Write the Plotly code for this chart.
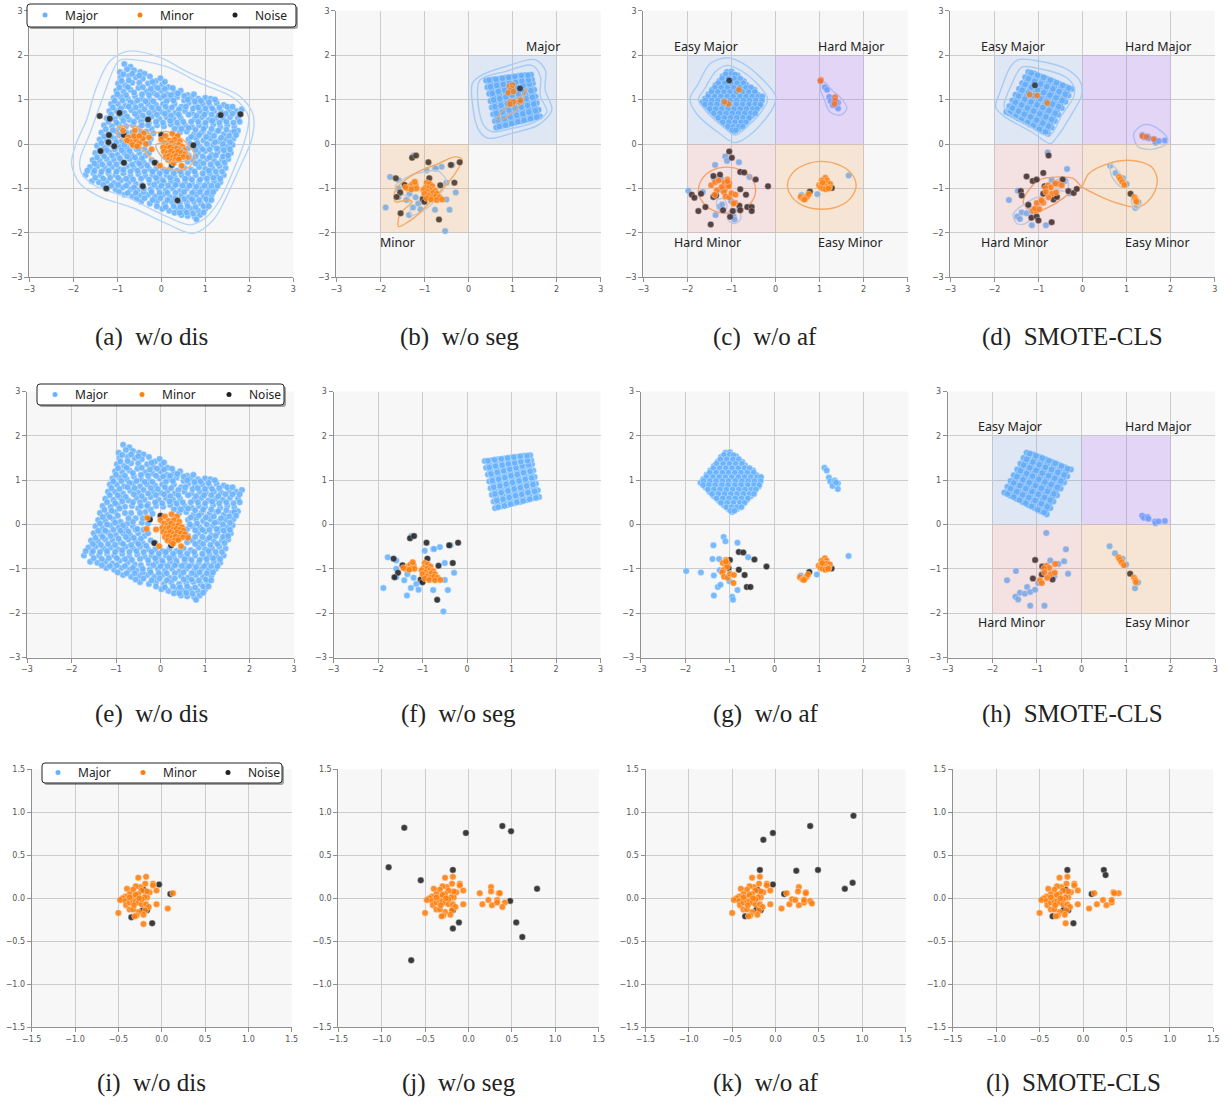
import plotly.graph_objects as go

W, H = 1225, 1101

BLUE = "#66b2ff"
ORANGE = "#ff7f0e"
BLACK = "#222222"
LINE_BLUE = "#b5d6f8"
LINE_ORANGE = "#f5ad6b"

TICKS_WIDE = [-3, -2, -1, 0, 1, 2, 3]
TICKS_NARROW = [-1.5, -1.0, -0.5, 0.0, 0.5, 1.0, 1.5]

# ----- Major clouds ----- #
MAJOR_LARGE = [
    (-.84,1.8),(-.7,1.74),(-.94,1.62),(-.78,1.68),(-.62,1.66),(-.48,1.62),(-.38,1.58),
    (-.92,1.5),(-.74,1.53),(-.58,1.5),(-.42,1.47),(-.26,1.52),(-.12,1.42),(-.02,1.48),
    (-.98,1.36),(-.82,1.32),(-.66,1.38),(-.3,1.36),(-.16,1.3),(.02,1.34),(.16,1.28),
    (-1.02,1.2),(-.86,1.18),(-.7,1.22),(-.52,1.26),(-.34,1.18),(-.18,1.15),(0,1.2),(.14,1.12),(.3,1.16),(.44,1.2),(.6,1.1),
    (-1.08,1.04),(-.92,1.06),(-.76,1.02),(-.6,1.08),(-.44,1.02),(-.26,1),(-.02,1.04),(.2,1.02),(.36,1.06),(.52,.98),(.68,1.04),(.84,1.02),(1,1.04),(1.12,1.02),
    (-1.14,.9),(-.98,.9),(-.82,.86),(-.62,.92),(-.46,.86),(-.3,.9),(-.12,.88),(.04,.9),(.3,.9),(.46,.84),(.62,.92),(.78,.88),(.94,.9),(1.1,.86),(1.26,.92),(1.42,.88),
    (-1.18,.74),(-1.02,.74),(-.84,.7),(-.68,.76),(-.5,.72),(-.16,.74),(0,.72),(.16,.76),(.32,.7),(.54,.74),(.7,.7),(.88,.74),(1.02,.72),(1.2,.74),(1.36,.72),(1.54,.76),(1.7,.74),(1.83,.78),
    (-1.24,.58),(-1.06,.56),(-.9,.6),(-.72,.54),(-.54,.6),(-.36,.56),(-.22,.62),(-.04,.56),(.12,.6),(.28,.56),(.44,.58),(.76,.56),(.92,.6),(1.08,.54),(1.24,.58),(1.4,.56),(1.56,.6),(1.74,.58),
    (-1.3,.42),(-1.12,.4),(-.96,.44),(-.8,.4),(-.64,.42),(-.5,.36),(-.1,.42),(.06,.4),(.22,.44),(.38,.4),(.54,.42),(.7,.38),(.86,.42),(1,.4),(1.18,.44),(1.34,.38),(1.5,.42),(1.66,.38),(1.78,.5),
    (-1.36,.26),(-1.2,.22),(-1.02,.28),(-.66,.26),(-.34,.28),(.42,.26),(.58,.28),(.74,.22),(.92,.26),(1.1,.24),(1.26,.28),(1.42,.22),(1.6,.26),(1.74,.3),
    (-1.4,.1),(-1.24,.08),(-1.06,.12),(-.9,.06),(-.74,.02),(-.56,.14),(-.42,.04),(-.24,.12),(.62,.1),(.8,.12),(.96,.08),(1.12,.12),(1.3,.06),(1.46,.1),(1.64,.12),
    (-1.46,-.04),(-1.3,-.08),(-1.12,-.02),(-.94,-.06),(-.78,-.1),(-.62,-.04),(.6,-.1),(.72,-.04),(.88,-.06),(1.18,-.02),(1.34,-.1),(1.5,-.06),(1.62,-.02),
    (-1.5,-.2),(-1.34,-.22),(-1.18,-.18),(-1,-.24),(-.84,-.2),(-.68,-.24),(-.5,-.2),(-.36,-.26),(.62,-.26),(.84,-.2),(1,-.16),(1.14,-.24),(1.28,-.18),(1.46,-.22),(1.58,-.2),
    (-1.56,-.36),(-1.4,-.38),(-1.24,-.34),(-1.08,-.36),(-.9,-.4),(-.72,-.34),(-.56,-.38),(-.4,-.42),(-.22,-.36),(.6,-.4),(.72,-.36),(.88,-.4),(1.04,-.34),(1.2,-.38),(1.38,-.36),(1.52,-.34),
    (-1.62,-.52),(-1.46,-.5),(-1.28,-.54),(-1.12,-.52),(-.96,-.56),(-.78,-.5),(-.62,-.54),(-.46,-.5),(-.28,-.56),(-.12,-.56),(.04,-.6),(.2,-.56),(.36,-.6),(.52,-.54),(.68,-.58),(.86,-.52),(1,-.56),(1.16,-.54),(1.32,-.5),(1.46,-.54),
    (-1.72,-.7),(-1.54,-.66),(-1.38,-.7),(-1.2,-.66),(-1.04,-.7),(-.86,-.66),(-.7,-.72),(-.52,-.68),(-.36,-.72),(-.2,-.7),(-.04,-.74),(.12,-.7),(.3,-.74),(.46,-.7),(.62,-.76),(.78,-.7),(.96,-.74),(1.1,-.68),(1.26,-.72),(1.42,-.7),
    (-1.58,-.84),(-1.42,-.86),(-1.24,-.84),(-1.08,-.88),(-.92,-.82),(-.74,-.86),(-.58,-.9),(-.26,-.88),(-.1,-.84),(.06,-.88),(.22,-.84),(.38,-.9),(.54,-.86),(.7,-.9),(.86,-.86),(1.04,-.88),(1.2,-.84),(1.34,-.86),
    (-1.22,-.98),(-1.04,-1.02),(-.88,-.98),(-.7,-1.02),(-.54,-1.04),(-.24,-1.02),(-.06,-1),(.1,-1.04),(.26,-1),(.42,-1.06),(.58,-1),(.76,-1.04),(.92,-1),(1.08,-1.02),(1.24,-1),
    (-.84,-1.14),(-.66,-1.18),(-.48,-1.16),(-.3,-1.14),(-.14,-1.18),(.04,-1.14),(.2,-1.2),(.46,-1.16),(.62,-1.2),(.8,-1.14),(.96,-1.18),(1.14,-1.16),
    (-.46,-1.3),(-.26,-1.34),(-.1,-1.3),(.08,-1.34),(.24,-1.3),(.42,-1.34),(.58,-1.32),(.74,-1.3),(.9,-1.34),(1.06,-1.3),
    (.02,-1.46),(.18,-1.5),(.36,-1.46),(.52,-1.5),(.68,-1.46),(.84,-1.5),(1,-1.46),
    (.46,-1.6),(.6,-1.62),(.76,-1.64),(.88,-1.6),(.8,-1.7),
]
MAJOR_LARGE_FILL = [
    (-.86,1.57),(-.66,1.58),(-.5,1.54),(-.9,1.42),(-.74,1.43),(-.5,1.38),(-.2,1.4),(.08,1.4),
    (-.95,1.27),(-.76,1.28),(-.42,1.28),(-.24,1.24),(-.08,1.26),(.08,1.24),(.26,1.26),
    (-1,1.12),(-.8,1.1),(-.62,1.16),(-.44,1.12),(-.28,1.1),(-.1,1.1),(.06,1.08),(.22,1.1),(.38,1.14),(.52,1.08),(.74,1.12),
    (-1.06,.97),(-.88,.98),(-.7,.94),(-.54,.98),(-.36,.96),(-.18,.96),(.12,.96),(.28,.98),(.6,1),(.76,.96),(.9,.97),(1.08,.94),(1.22,1),
    (-1.1,.82),(-.92,.8),(-.74,.84),(-.58,.82),(-.38,.78),(-.22,.82),(-.06,.8),(.1,.84),(.24,.82),(.4,.78),(.56,.84),(.72,.8),(.84,.82),(1,.8),(1.16,.8),(1.32,.82),(1.5,.84),(1.62,.84),
    (-1.14,.66),(-.96,.66),(-.78,.62),(-.6,.68),(-.42,.64),(-.28,.7),(-.1,.66),(.08,.68),(.22,.64),(.4,.66),(.62,.66),(.8,.64),(.98,.66),(1.14,.66),(1.3,.64),(1.46,.68),(1.62,.68),(1.78,.68),
    (-1.2,.5),(-1.02,.48),(-.86,.52),(-.62,.5),(-.46,.5),(-.28,.46),(-.12,.5),(.04,.48),(.2,.52),(.36,.48),(.5,.5),(.68,.5),(.84,.5),(1,.48),(1.16,.52),(1.32,.48),(1.48,.5),(1.64,.48),
    (-1.26,.33),(-1.1,.31),(-.92,.36),(-.22,.34),(.3,.34),(.46,.34),(.62,.36),(.78,.32),(.96,.34),(1.14,.34),(1.3,.3),(1.48,.32),(1.66,.28),
    (-1.3,.17),(-1.14,.17),(-.96,.2),(.68,.16),(.86,.2),(1.02,.16),(1.2,.18),(1.36,.14),(1.54,.18),(1.7,.2),
    (-1.36,.02),(-1.2,0),(-1.02,.04),(-.84,-.02),(.66,0),(.82,.02),(1.04,0),(1.22,.04),(1.4,0),(1.56,.04),
    (-1.4,-.14),(-1.24,-.14),(-1.06,-.12),(-.9,-.14),(-.72,-.16),(-.56,-.12),(.78,-.13),(.94,-.12),(1.1,-.12),(1.26,-.1),(1.42,-.14),(1.56,-.12),
    (-1.46,-.3),(-1.3,-.28),(-1.12,-.26),(-.94,-.32),(-.78,-.28),(-.6,-.3),(-.44,-.32),(.78,-.28),(.94,-.28),(1.1,-.3),(1.24,-.26),(1.4,-.28),(1.52,-.26),
    (-1.52,-.44),(-1.34,-.46),(-1.18,-.44),(-1.02,-.46),(-.84,-.44),(-.66,-.46),(-.5,-.44),(-.32,-.48),(.78,-.44),(.96,-.44),(1.12,-.46),(1.28,-.44),(1.44,-.42),
    (-1.68,-.6),(-1.52,-.6),(-1.36,-.62),(-1.2,-.6),(-1.02,-.62),(-.86,-.58),(-.7,-.62),(-.54,-.6),(-.38,-.62),(-.2,-.62),(-.04,-.66),(.12,-.62),(.28,-.66),(.44,-.62),(.6,-.66),(.76,-.62),(.94,-.66),(1.08,-.6),(1.24,-.62),(1.38,-.62),
    (-1.5,-.76),(-1.32,-.78),(-1.16,-.76),(-.98,-.76),(-.8,-.78),(-.64,-.8),(-.46,-.78),(-.28,-.8),(-.12,-.76),(.04,-.82),(.2,-.76),(.36,-.82),(.54,-.78),(.7,-.8),(.88,-.8),(1.04,-.78),(1.18,-.76),(1.34,-.78),
    (-1.32,-.92),(-1.14,-.94),(-.98,-.92),(-.8,-.94),(-.62,-.98),(-.16,-.92),(0,-.94),(.16,-.94),(.32,-.92),(.48,-.94),(.64,-.94),(.8,-.96),(.98,-.94),(1.14,-.94),(1.28,-.94),
    (-.96,-1.08),(-.76,-1.1),(-.58,-1.1),(-.4,-1.08),(-.22,-1.08),(-.04,-1.1),(.14,-1.1),(.32,-1.1),(.52,-1.08),(.7,-1.1),(.88,-1.08),(1.04,-1.1),(1.18,-1.08),
    (-.56,-1.24),(-.38,-1.22),(-.2,-1.26),(-.02,-1.22),(.14,-1.26),(.32,-1.22),(.52,-1.24),(.7,-1.24),(.86,-1.26),(1.02,-1.24),(1.14,-1.26),
    (-.1,-1.4),(.1,-1.42),(.28,-1.4),(.44,-1.42),(.6,-1.4),(.78,-1.42),(.96,-1.4),(1.08,-1.4),
    (.3,-1.55),(.42,-1.55),(.58,-1.54),(.72,-1.56),(.96,-1.54),
    (-.8,.26),(-.62,.06),(-.46,.26),(-.72,.14),(-.44,.42),(-.3,.42),(-.18,.24),(-.52,-.1),(-.38,-.12),(-.28,.02),(-.4,.14),(-.28,-.2),(-.44,-.92),(-.4,-1),(-.12,-.42),
]

MAJOR_SQUARE_B = [
    (.63,.37),(.77,.41),(.91,.44),(1.05,.48),(1.19,.51),(1.34,.55),(1.48,.59),(1.62,.62),
    (.6,.52),(.74,.56),(.88,.59),(1.02,.63),(1.16,.66),(1.3,.7),(1.45,.74),(1.59,.77),
    (.56,.67),(.7,.71),(.85,.74),(.99,.78),(1.13,.82),(1.27,.85),(1.41,.89),(1.55,.92),
    (.53,.82),(.67,.86),(.81,.89),(.95,.93),(1.1,.97),(1.24,1),(1.38,1.04),(1.52,1.07),
    (.5,.97),(.64,1.01),(.78,1.04),(.92,1.08),(1.06,1.12),(1.2,1.15),(1.35,1.19),(1.49,1.22),
    (.47,1.13),(.61,1.16),(.75,1.2),(.89,1.23),(1.03,1.27),(1.17,1.3),(1.31,1.34),(1.46,1.36),
    (.43,1.28),(.57,1.31),(.72,1.33),(.86,1.36),(1,1.38),(1.14,1.41),(1.28,1.44),(1.44,1.45),
    (.4,1.43),(.55,1.45),(.7,1.47),(.84,1.49),(.98,1.51),(1.13,1.53),(1.28,1.55),(1.42,1.56),
    (.69,.47),(.83,.5),(.97,.54),(1.11,.57),(1.25,.61),(1.4,.65),(1.54,.68),
    (.65,.62),(.8,.65),(.94,.69),(1.08,.73),(1.22,.76),(1.36,.8),(1.5,.83),
    (.62,.77),(.76,.8),(.9,.84),(1.04,.88),(1.19,.91),(1.33,.95),(1.47,.98),
    (.59,.92),(.73,.95),(.87,.99),(1.01,1.03),(1.15,1.06),(1.3,1.1),(1.44,1.13),
    (.56,1.07),(.7,1.1),(.84,1.14),(.98,1.18),(1.12,1.21),(1.26,1.25),(1.4,1.29),
    (.52,1.22),(.67,1.25),(.81,1.28),(.95,1.31),(1.09,1.35),(1.23,1.37),(1.38,1.42),
    (.49,1.37),(.64,1.39),(.78,1.41),(.92,1.44),(1.06,1.46),(1.21,1.49),(1.35,1.5),
    (.7,.39),(.84,.42),(.98,.46),(1.12,.5),(1.26,.53),(1.41,.57),(1.55,.6),
    (.67,.54),(.81,.57),(.95,.61),(1.09,.65),(1.23,.68),(1.37,.72),(1.52,.75),
    (.63,.69),(.77,.72),(.92,.76),(1.06,.8),(1.2,.83),(1.34,.87),(1.48,.9),
    (.6,.84),(.74,.87),(.88,.91),(1.02,.95),(1.17,.98),(1.31,1.02),(1.45,1.05),
    (.57,.99),(.71,1.02),(.85,1.06),(.99,1.1),(1.13,1.13),(1.27,1.17),(1.42,1.2),
    (.54,1.14),(.68,1.18),(.82,1.21),(.96,1.25),(1.1,1.28),(1.24,1.32),(1.38,1.35),
    (.5,1.29),(.64,1.32),(.79,1.34),(.93,1.37),(1.07,1.39),(1.21,1.42),(1.36,1.44),
    (.47,1.44),(.62,1.46),(.77,1.48),(.91,1.5),(1.05,1.52),(1.2,1.54),(1.35,1.55),
]

MAJOR_DIAMOND_C = [
    (-1.1,1.62),(-1,1.63),(-1.2,1.52),(-1.07,1.53),(-.94,1.51),(-.86,1.54),
    (-1.27,1.42),(-1.14,1.43),(-1,1.41),(-.86,1.43),(-.72,1.41),
    (-1.36,1.32),(-1.22,1.33),(-1.08,1.31),(-.94,1.33),(-.8,1.31),(-.66,1.33),
    (-1.44,1.22),(-1.3,1.23),(-1.16,1.21),(-1.02,1.23),(-.88,1.21),(-.74,1.23),(-.6,1.21),(-.48,1.22),
    (-1.52,1.12),(-1.38,1.13),(-1.24,1.11),(-1.1,1.13),(-.96,1.11),(-.82,1.13),(-.68,1.11),(-.54,1.13),(-.4,1.11),
    (-1.6,1.02),(-1.45,1.03),(-1.3,1.01),(-1.17,1.03),(-1.03,1.01),(-.88,1.03),(-.74,1.01),(-.6,1.03),(-.46,1.01),(-.32,1.03),
    (-1.66,.94),(-1.52,.93),(-1.38,.95),(-1.24,.93),(-1.1,.95),(-.95,.93),(-.8,.95),(-.66,.93),(-.52,.95),(-.38,.93),
    (-1.55,.84),(-1.42,.85),(-1.28,.83),(-1.12,.85),(-1,.83),(-.86,.85),(-.72,.83),(-.58,.85),(-.44,.83),(-.36,.85),
    (-1.46,.74),(-1.32,.75),(-1.18,.73),(-1.04,.75),(-.9,.73),(-.76,.75),(-.62,.73),(-.48,.75),
    (-1.36,.64),(-1.22,.65),(-1.08,.63),(-.94,.65),(-.8,.63),(-.66,.65),(-.54,.63),
    (-1.25,.54),(-1.12,.55),(-.98,.53),(-.84,.55),(-.7,.53),(-.62,.55),
    (-1.14,.44),(-1.02,.45),(-.9,.43),(-.76,.45),(-1.02,.34),(-.94,.33),(-.84,.35),(-.95,.28),
    (-1.13,1.57),(-1,1.58),(-.92,1.56),(-1.21,1.47),(-1.07,1.47),(-.93,1.47),(-.8,1.47),
    (-1.3,1.37),(-1.15,1.37),(-1.01,1.37),(-.87,1.37),(-.73,1.37),
    (-1.37,1.27),(-1.23,1.27),(-1.09,1.27),(-.95,1.27),(-.81,1.27),(-.67,1.27),(-.56,1.27),
    (-1.45,1.17),(-1.31,1.17),(-1.17,1.17),(-1.03,1.17),(-.89,1.17),(-.75,1.17),(-.61,1.17),(-.47,1.17),
    (-1.53,1.07),(-1.38,1.07),(-1.24,1.07),(-1.1,1.07),(-.96,1.07),(-.81,1.07),(-.67,1.07),(-.53,1.07),(-.39,1.07),(-.3,1.07),
    (-1.59,.98),(-1.45,.98),(-1.31,.98),(-1.17,.98),(-1.03,.98),(-.88,.98),(-.73,.98),(-.59,.98),(-.45,.98),(-.31,.98),
    (-1.6,.89),(-1.47,.89),(-1.33,.89),(-1.18,.89),(-1.04,.89),(-.89,.89),(-.75,.89),(-.6,.89),(-.46,.89),(-.34,.89),
    (-1.49,.79),(-1.36,.79),(-1.22,.79),(-1.08,.79),(-.94,.79),(-.8,.79),(-.66,.79),(-.52,.79),(-.42,.79),
    (-1.4,.69),(-1.26,.69),(-1.12,.69),(-.98,.69),(-.84,.69),(-.7,.69),(-.56,.69),(-.46,.69),
    (-1.3,.59),(-1.16,.59),(-1.02,.59),(-.88,.59),(-.74,.59),(-.6,.59),
    (-1.2,.49),(-1.06,.49),(-.92,.49),(-.78,.49),(-.67,.49),(-1.08,.39),(-.96,.39),(-.84,.39),(-.74,.39),(-.98,.31),(-.9,.31),
]

MAJOR_SQUARE_D = [
    (-1.73,.72),(-1.59,.65),(-1.46,.58),(-1.32,.51),(-1.19,.44),(-1.05,.37),(-.91,.3),(-.78,.23),
    (-1.66,.85),(-1.52,.78),(-1.39,.71),(-1.25,.64),(-1.11,.58),(-.97,.51),(-.84,.44),(-.7,.37),
    (-1.59,.98),(-1.45,.91),(-1.31,.85),(-1.18,.78),(-1.04,.71),(-.9,.65),(-.77,.58),(-.63,.52),
    (-1.52,1.11),(-1.38,1.05),(-1.24,.98),(-1.1,.92),(-.97,.85),(-.83,.79),(-.69,.72),(-.55,.66),
    (-1.44,1.24),(-1.3,1.18),(-1.17,1.12),(-1.03,1.06),(-.89,.99),(-.75,.93),(-.61,.87),(-.47,.81),
    (-1.37,1.37),(-1.23,1.31),(-1.09,1.25),(-.95,1.19),(-.81,1.13),(-.67,1.07),(-.53,1.01),(-.39,.95),
    (-1.3,1.5),(-1.16,1.44),(-1.02,1.38),(-.88,1.32),(-.74,1.27),(-.6,1.21),(-.46,1.15),(-.32,1.09),
    (-1.23,1.62),(-1.09,1.58),(-.95,1.52),(-.81,1.47),(-.66,1.41),(-.52,1.35),(-.38,1.29),(-.24,1.24),
    (-1.62,.75),(-1.49,.68),(-1.35,.61),(-1.22,.54),(-1.08,.48),(-.94,.41),(-.8,.33),
    (-1.55,.88),(-1.41,.81),(-1.28,.74),(-1.14,.68),(-1,.61),(-.87,.55),(-.73,.47),
    (-1.48,1.01),(-1.34,.95),(-1.2,.89),(-1.07,.82),(-.93,.75),(-.8,.69),(-.66,.62),
    (-1.41,1.14),(-1.27,1.08),(-1.13,1.02),(-1,.96),(-.86,.89),(-.72,.83),(-.58,.76),
    (-1.34,1.27),(-1.19,1.22),(-1.06,1.16),(-.92,1.09),(-.78,1.03),(-.64,.97),(-.5,.91),
    (-1.26,1.4),(-1.12,1.35),(-.98,1.28),(-.84,1.23),(-.7,1.17),(-.56,1.11),(-.42,1.05),
    (-1.19,1.54),(-1.05,1.48),(-.91,1.42),(-.77,1.37),(-.63,1.31),(-.49,1.25),(-.35,1.19),
    (-1.66,.69),(-1.52,.62),(-1.39,.55),(-1.25,.48),(-1.12,.41),(-.98,.33),(-.84,.27),
    (-1.59,.81),(-1.45,.74),(-1.32,.67),(-1.18,.61),(-1.04,.54),(-.9,.47),(-.77,.4),
    (-1.52,.94),(-1.38,.88),(-1.25,.81),(-1.11,.74),(-.97,.68),(-.83,.61),(-.7,.55),
    (-1.45,1.08),(-1.31,1.01),(-1.17,.95),(-1.03,.88),(-.9,.82),(-.76,.75),(-.62,.69),
    (-1.37,1.21),(-1.23,1.15),(-1.1,1.09),(-.96,1.02),(-.82,.96),(-.68,.9),(-.54,.84),
    (-1.3,1.34),(-1.16,1.28),(-1.02,1.22),(-.88,1.16),(-.74,1.1),(-.6,1.04),(-.46,.98),
    (-1.23,1.47),(-1.09,1.41),(-.95,1.35),(-.81,1.29),(-.67,1.24),(-.53,1.18),(-.39,1.12),
    (-1.16,1.6),(-1.02,1.55),(-.88,1.5),(-.73,1.44),(-.59,1.38),(-.45,1.32),(-.31,1.26),
]

# ----- Scattered major points ----- #
MAJOR_SCATTER_B = [
    (-1.88,-1.43),(-1.78,-.74),(-1.59,-.81),(-1.59,-1),(-1.34,-1.12),(-1.2,-1.2),(-1.14,-1.34),(-1.26,-1.43),(-1.35,-1.6),
    (-1.09,-1.47),(-.76,-1.48),(-.43,-1.48),(-.5,-1.25),(-.29,-1.09),(-.5,-.87),(-.76,-.55),(-.61,-.51),(-.95,-.59),
    (-.37,-.47),(-1.25,-.26),(-.74,-.55),(-.53,-1.96),(-1.41,-1.26),(-1.59,-1.19),(-1.01,-1.3),
]
MAJOR_SCATTER_C = [
    (-1.98,-1.05),(-1.65,-1.08),(-1.36,-1.15),(-1.39,-.78),(-1.24,-.78),(-1.37,-.47),(-1.14,-.28),(-1.1,-.38),(-.83,-.41),
    (-.59,-.74),(-1.23,-1.03),(-1.27,-1.41),(-1.21,-1.36),(-1.36,-1.6),(-.95,-1.63),(-.93,-1.7),(-.83,-1.48),(-1.01,-1.28),
    (1.66,-.71),(.95,-1.13),(.59,-1.15),
    (1.12,1.28),(1.17,1.22),(1.22,1.06),(1.25,.97),(1.35,.99),(1.42,.93),(1.3,.87),(1.42,.8),(1.38,.95),
]
MAJOR_SCATTER_D = [
    (-1.67,-1.26),(-1.47,-1.05),(-1.22,-1.41),(-1.38,-1.54),(-1.27,-1.56),(-1.15,-1.52),(-1.04,-1.47),(-1.48,-1.63),(-1.42,-1.69),
    (-1.15,-1.83),(-.83,-1.83),(-.79,-.19),(-.7,-.81),(-.52,-.89),(-.39,-.83),(-.35,-.56),(-.3,-1.11),(-.97,-1.32),(-.61,-1.17),
    (.63,-.49),(.75,-.65),(.92,-.77),(.98,-.92),(1,-.9),(1.27,-1.31),(1.2,-1.44),
    (1.36,.2),(1.4,.15),(1.48,.17),(1.5,.13),(1.65,.07),(1.66,.03),(1.73,.07),(1.87,.08),
]

# ----- Minor points ----- #
MINOR_CENTER = [
    (.1,.18),(.25,.23),(.37,.18),(.18,.08),(.3,.1),(.42,.06),(0,.1),(.08,.02),(.16,-.02),(.24,.02),(.32,-.03),(.4,-.02),(.48,-.06),
    (.04,-.08),(.12,-.1),(.2,-.08),(.28,-.12),(.36,-.1),(.44,-.12),(.52,-.14),(.06,-.17),(.14,-.2),(.22,-.17),(.3,-.21),(.38,-.18),(.46,-.2),(.55,-.22),
    (.1,-.28),(.18,-.27),(.26,-.3),(.34,-.27),(.42,-.3),(.5,-.29),(.62,-.3),(.16,-.36),(.24,-.39),(.32,-.36),(.4,-.35),(.28,-.43),(.46,-.49),(-.03,-.49),
]
MINOR_A_EXTRA = [
    (-.87,.3),(-.6,.3),(-.4,.24),(-.75,.15),(-.7,.05),(-.58,.1),(-.5,.02),(-.42,.12),(-.65,-.02),(-.28,.15),(-.22,-.12),
    (-.78,.08),(-.62,.18),(-.5,.18),(-.55,-.05),(-.35,0),
]
MINOR_E_EXTRA = [(-.3,.15),(-.31,-.1),(-.1,-.11)]
MINOR_B_ZONE = [
    (-1.33,-.95),(-1.27,-.9),(-1.2,-.92),(-1.38,-1),(-1.25,-1),(-1.18,-1),(-1.3,-1.02),(-1.43,-.98),(-1.22,-.85),
    (-.95,-.87),(-.88,-.9),(-.82,-.95),(-.97,-.98),(-.9,-1),(-.83,-1.03),(-.76,-1.05),(-1.02,-1.03),(-.93,-1.08),(-.86,-1.12),
    (-.8,-1.1),(-.72,-1.12),(-1,-1.12),(-.9,-1.17),(-.82,-1.2),(-.74,-1.18),(-.66,-1.2),(-.95,-1.22),(-.85,-1.25),(-.72,-1.26),(-.6,-1.25),
]
MINOR_B_EXTRA = [
    (.95,.95),(1,.9),(1.02,.95),(.93,1.3),(1,1.33),(.98,1.25),(.95,1.2),(.9,1.15),(1.02,1.18),(1.15,.95),(1.18,.98),(.94,.9),
]
MINOR_EASY_C = [
    (1.13,-.76),(1.05,-.82),(1.17,-.82),(.99,-.93),(1.05,-.9),(1.12,-.88),(1.18,-.88),(1.24,-.9),(1.03,-.98),(1.1,-.95),(1.16,-.96),
    (1.22,-.98),(1.08,-1),(1.14,-1.02),(1.2,-1),(1.07,-.87),(.57,-1.19),(.63,-1.24),(.68,-1.21),(.72,-1.18),(.75,-1.13),(.66,-1.25),
]
MINOR_G_HARD = [
    (-1.09,-.8),(-1.16,-.87),(-1.05,-.89),(-1.09,-.95),(-1.15,-1.03),(-1.06,-.95),(-1.17,-1.08),(-1.13,-1.18),(-1.05,-1.2),
    (-1,-1.11),(-.91,-1.14),(-.92,-1.32),(-1.09,-.84),
]
MINOR_C_EXTRA = [
    (-1.46,-.93),(-1.37,-.86),(-1.29,-.82),(-1.33,-1.04),(-1.38,-1.14),(-1.22,-.97),(-.95,-1.34),
    (-.83,1.22),(-1.07,.9),(-1.16,.95),(1.03,1.44),(1.02,1.42),(1.35,1.05),(1.35,.98),(1.34,.9),
]
MINOR_H = [
    (-.78,-.93),(-.72,-.98),(-.84,-.99),(-.83,-1.08),(-.69,-1.12),(-.6,-1.09),(-.77,-1.2),(-.93,-1.26),(-.89,-1.32),(-.59,-.89),
    (.83,-.74),(.86,-.79),(.9,-.85),(.95,-.92),(1.18,-1.2),(1.21,-1.26),(1.22,-1.3),
]
MINOR_D_EXTRA = [
    (-1.12,-1.5),(-1.05,-1.5),(-1.08,-1.45),(-.98,-1.47),(-1.04,-1.33),(-.93,-1.28),(-.55,-.9),(-.47,-.93),(-.62,-.89),
    (-1.2,1.11),(-1.03,1.09),(-.8,.92),(1.36,.18),(1.45,.16),(1.62,.11),
]

# Bottom row, cluster shared by all four panels
MINOR_SMALL = [
    (-.27,.24),(-.18,.25),(-.19,.17),(-.1,.17),(-.1,.15),(-.06,.09),(-.18,.05),(-.14,.07),(-.17,.08),(-.25,.13),(-.3,.14),(-.33,.1),
    (-.4,.11),(-.37,.05),(-.32,.01),(-.23,.09),(-.27,.05),(-.3,.04),(-.42,.02),(-.45,0),(-.48,-.02),(-.42,-.03),(-.41,-.08),(-.37,-.05),
    (-.33,-.03),(-.3,-.04),(-.27,-.05),(-.23,-.07),(-.18,-.07),(-.15,-.1),(-.19,-.14),(-.21,-.19),(-.27,-.16),(-.29,-.2),(-.31,-.21),
    (-.37,-.13),(-.33,-.13),(-.5,-.17),(-.06,-.07),(-.17,.01),(-.2,.01),(-.23,-.01),(-.26,0),(-.32,-.08),(-.37,.01),
]
MINOR_I_EXTRA = [(.13,.06),(.07,-.12),(-.21,-.3)]
MINOR_J_EXTRA = [(.13,.06),(.26,.13),(.26,.08),(.35,.06),(.36,.06),(.16,-.07),(.23,-.02),(.27,-.08),(.33,-.02),(.33,-.05),(.42,-.05),(.39,-.1)]
MINOR_K_EXTRA = [(.13,.06),(.27,.13),(.26,.08),(.35,.07),(.35,.06),(.07,-.12),(.16,-.07),(.19,-.01),(.23,-.02),(.27,-.08),(.33,-.05),(.33,-.02),(.4,-.03),(.42,-.06)]
MINOR_L_EXTRA = [(.13,.06),(.35,.07),(.41,.06),(.36,.06),(.07,-.12),(.16,-.07),(.23,-.02),(.27,-.08),(.33,-.05),(.33,-.02),(-.2,-.29)]

# ----- Noise points ----- #
NOISE_A = [
    (-1.4,.63),(-1.17,.57),(-.95,.7),(-.3,.55),(-1.19,.2),(-1.2,.04),(-1.38,-.16),(-1.07,-.05),(-.85,-.42),(-.42,-.95),(.73,-.03),
    (0,.2),(.24,-.47),(-.15,-.42),(1.35,.65),(1.8,.67),(.37,-1.27),(-1.25,-1),(-.85,.2),
]
NOISE_E = [(-.24,.11),(0,.2),(-.14,-.42),(.24,-.47)]
NOISE_B = [
    (-1.65,-.77),(-1.45,-.92),(-1.55,-1.09),(-1.63,-1.19),(-1.54,-1.56),(-1.28,-.31),(-1.19,-.26),(-.91,-.41),(-.4,-.47),(-.2,-.41),
    (-.32,-.87),(-.64,-.93),(-.89,-.77),(-1.04,-1.24),(-1,-1.3),(-.67,-1.7),(-.91,-.92),(1.17,1.25),
]
NOISE_F = [
    (-1.65,-.77),(-1.45,-.92),(-1.55,-1.09),(-1.63,-1.19),(-1.28,-.31),(-1.19,-.26),(-.91,-.41),(-.4,-.47),(-.2,-.41),(-.32,-.87),
    (-.64,-.93),(-.89,-.77),(-1.04,-1.24),(-1,-1.3),(-.67,-1.7),
]
NOISE_C = [
    (-1.9,-1.14),(-1.84,-1.21),(-1.75,-1.51),(-1.59,-1.42),(-1.47,-1.81),(-1.69,-1.12),(-1.41,-.72),(-1.26,-.69),(-1.05,-.17),(-.99,-.31),
    (-.8,-.63),(-.71,-.64),(-.45,-.8),(-.17,-.95),(-.8,-1.02),(-.67,-1.14),(-.64,-1.42),(-.54,-1.42),(-.54,-1.51),(-.82,-1.39),(-.97,-1.51),
    (-.8,-1.49),(-1.03,-1.64),(-1.19,-1.49),(-1.41,-1.19),(-1.35,-1.16),(.78,-1.07),(1.28,-.99),(-1.05,1.43),
]
NOISE_G = [
    (-1,-.8),(-.8,-.62),(-.7,-.63),(-.45,-.79),(-.18,-.95),(-.8,-1.02),(-.67,-1.14),(-.62,-1.41),(-.54,-1.41),(.78,-1.07),(1.28,-.99),(-1.03,-.98),
]
NOISE_D = [
    (-1.27,-.73),(-1.13,-.83),(-1.04,-.8),(-.89,-.65),(-1.4,-1.06),(-1.38,-1.16),(-1.23,-1.37),(-.45,-.8),(-.32,-1.06),(-.2,-1.1),(-.13,-1.01),
    (-1.16,-1.66),(-1.04,-1.63),(-1,-1.72),(-.7,-1.76),(-.77,-.26),(-.86,-.95),(-.89,-1.12),(-.66,-1.25),(-.58,-1.19),(1.09,-1.12),(-1.08,1.32),
]
NOISE_H = [(-1.04,-.8),(-.88,-.95),(-.89,-1.13),(-1.09,-1.22),(-.65,-1.24),(1.09,-1.11)]
NOISE_I = [(-.35,-.22),(-.11,-.29),(-.03,.16),(.1,.05),(-.21,.1),(-.22,-.14),(-.17,-.14)]
NOISE_J = [
    (-.74,.82),(-.92,.36),(-.55,.21),(-.18,.33),(-.03,.76),(.39,.84),(.49,.78),(.79,.11),(.48,-.03),(.55,-.28),(.62,-.45),
    (-.11,-.28),(-.18,-.35),(-.66,-.72),(-.18,-.14),
]
NOISE_K = [
    (.9,.96),(.4,.84),(-.03,.76),(-.14,.68),(-.18,.33),(.24,.32),(.49,.33),(.89,.18),(.8,.11),(-.03,.16),(.1,.05),(-.21,.1),(-.22,-.13),(-.17,-.14),(-.35,-.21),
]
NOISE_L = [(-.18,.33),(.24,.33),(.26,.27),(-.2,.1),(.1,.05),(-.22,-.13),(-.17,-.14),(-.35,-.21),(-.11,-.29)]

# ----- Contour lines ----- #
CONTOURS_A = [
    (LINE_BLUE, [(-.75,2.09),(-.03,1.95),(.58,1.63),(1.26,1.33),(1.79,1.07),(2.09,.65),(2.05,.09),(1.79,-.51),(1.48,-1.19),(1.18,-1.71),(.73,-2.01),(.12,-1.79),(-.64,-1.44),(-1.39,-1.19),(-1.85,-.89),(-2.04,-.44),(-1.93,.02),(-1.7,.54),(-1.47,1.29),(-1.17,1.86),(-.75,2.09)]),
    (LINE_BLUE, [(-.94,1.89),(.12,1.74),(.88,1.37),(1.64,1.04),(1.98,.62),(1.9,.09),(1.64,-.59),(1.33,-1.26),(1.03,-1.64),(.65,-1.82),(-.03,-1.56),(-.79,-1.19),(-1.47,-.96),(-1.81,-.66),(-1.85,-.36),(-1.62,.24),(-1.32,1.07),(-1.09,1.67),(-.94,1.89)]),
    (LINE_ORANGE, [(-1.02,.35),(-.64,.41),(-.26,.24),(.12,.28),(.5,.09),(.77,-.29),(.58,-.55),(.12,-.55),(-.26,-.29),(-.56,.02),(-.94,.13),(-1.02,.35)]),
]
CONTOURS_A_TOP = [
    ("#c9b8a5", [(-.12,-.02),(.2,.02),(.5,-.12),(.66,-.34),(.4,-.4),(.06,-.34),(-.12,-.02)]),
]
CONTOURS_B = [
    (LINE_BLUE, [(.3,1.55),(.83,1.74),(1.51,1.9),(1.74,1.67),(1.74,1.22),(1.89,.77),(1.59,.43),(.98,.24),(.45,.13),(.23,.32),(.08,.99),(.09,1.37),(.3,1.55)]),
    (LINE_BLUE, [(.26,1.44),(.83,1.63),(1.44,1.77),(1.63,1.52),(1.63,1.07),(1.78,.73),(1.51,.5),(.98,.35),(.53,.28),(.34,.43),(.21,.99),(.26,1.44)]),
    (LINE_ORANGE, [(.64,.56),(.87,.84),(1.21,1.1),(1.32,1.25),(1.25,.99),(.98,.69),(.72,.54),(.64,.56)]),
    (LINE_BLUE, [(-1.66,-.95),(-1.3,-.7),(-1,-.63),(-.7,-.6),(-.5,-.85),(-.7,-1.2),(-.95,-1.45),(-1.3,-1.6),(-1.35,-1.2),(-1.6,-1.1),(-1.66,-.95)]),
    (LINE_ORANGE, [(-1.59,-1.86),(-1.21,-1.64),(-.76,-1.19),(-.3,-.66),(-.15,-.35),(-.3,-.29),(-.68,-.44),(-1.21,-.66),(-1.66,-1.04),(-1.66,-1.3),(-1.39,-1.26),(-1.28,-1.3),(-1.55,-1.56),(-1.6,-1.79),(-1.59,-1.86)]),
]
CONTOURS_C = [
    (LINE_BLUE, [(-1.1,1.94),(-.73,1.81),(-.27,1.43),(0,1.09),(-.05,.83),(-.5,.27),(-.92,.03),(-1.26,.23),(-1.79,.68),(-1.94,1.02),(-1.75,1.36),(-1.48,1.81),(-1.1,1.94)]),
    (LINE_BLUE, [(-1.1,1.77),(-.8,1.66),(-.42,1.36),(-.18,1.02),(-.27,.8),(-.61,.42),(-.92,.2),(-1.18,.38),(-1.56,.72),(-1.75,1),(-1.6,1.25),(-1.37,1.62),(-1.1,1.77)]),
    (LINE_BLUE, [(1.09,1.4),(1.28,1.21),(1.5,1.02),(1.62,.8),(1.47,.65),(1.24,.72),(1.1,1.02),(1.01,1.28),(1.09,1.4)]),
    (LINE_ORANGE, [(-.45,-1.04),(-.54,-.78),(-.78,-.59),(-1.1,-.52),(-1.43,-.59),(-1.66,-.78),(-1.75,-1.04),(-1.66,-1.3),(-1.43,-1.49),(-1.1,-1.56),(-.78,-1.49),(-.54,-1.3),(-.45,-1.04)]),
    (LINE_BLUE, [(-1.33,-1.27),(-1.18,-1.23),(-1.1,-1.42),(-1.22,-1.53),(-1.32,-1.45),(-1.33,-1.27)]),
    (LINE_BLUE, [(-1.07,-1.53),(-.84,-1.46),(-.79,-1.68),(-.92,-1.79),(-1.07,-1.72),(-1.07,-1.53)]),
    (LINE_ORANGE, [(1.83,-.93),(1.72,-.66),(1.44,-.47),(1.05,-.39),(.66,-.47),(.38,-.66),(.27,-.93),(.38,-1.2),(.66,-1.4),(1.05,-1.47),(1.44,-1.4),(1.72,-1.2),(1.83,-.93)]),
]
CONTOURS_D = [
    (LINE_BLUE, [(-1.45,1.9),(-1.07,1.88),(-.39,1.7),(-.05,1.4),(-.02,1.1),(-.24,.68),(-.58,.16),(-.73,.01),(-1.15,.27),(-1.76,.61),(-1.97,.83),(-1.87,1.17),(-1.64,1.73),(-1.45,1.9)]),
    (LINE_BLUE, [(-1.38,1.73),(-1,1.7),(-.39,1.51),(-.19,1.28),(-.2,1.06),(-.47,.65),(-.7,.23),(-.85,.2),(-1.23,.42),(-1.72,.72),(-1.78,.87),(-1.6,1.36),(-1.38,1.73)]),
    (LINE_BLUE, [(1.16,.23),(1.35,.42),(1.57,.42),(1.91,.16),(1.91,.01),(1.57,-.12),(1.27,-.07),(1.18,.08),(1.16,.23)]),
    (LINE_ORANGE, [(-.02,-.96),(.14,-.67),(.59,-.44),(1.12,-.37),(1.57,-.52),(1.7,-.82),(1.57,-1.19),(1.27,-1.42),(.82,-1.34),(.36,-1.16),(-.02,-.96),(-.2,-.78),(-.54,-.74),(-1,-.82),(-1.3,-1.16),(-1.34,-1.34),(-1.07,-1.53),(-.62,-1.34),(-.24,-1.08),(-.02,-.96)]),
    (LINE_BLUE, [(-1.57,-1.57),(-1.3,-1.34),(-.96,-1.19),(-.92,-1.27),(-1.07,-1.57),(-1.3,-1.79),(-1.49,-1.79),(-1.57,-1.57)]),
    (LINE_BLUE, [(-.66,-.86),(-.47,-.78),(-.32,-.89),(-.36,-1.04),(-.54,-1.04),(-.66,-.86)]),
    (LINE_BLUE, [(.63,-.44),(.85,-.67),(1.01,-.93),(.89,-.97),(.67,-.74),(.63,-.44)]),
    (LINE_BLUE, [(1.12,-1.19),(1.27,-1.27),(1.31,-1.42),(1.2,-1.46),(1.12,-1.34),(1.12,-1.19)]),
]

# ----- Segments and labels ----- #
FILL_EASY_MAJOR = "rgba(95,150,225,0.16)"
FILL_HARD_MAJOR = "rgba(150,80,240,0.20)"
FILL_HARD_MINOR = "rgba(230,110,110,0.16)"
FILL_EASY_MINOR = "rgba(245,150,60,0.18)"
ZONES_TWO = [(0, 0, FILL_EASY_MAJOR), (-2, -2, FILL_EASY_MINOR)]
ZONES_FOUR = [(-2, 0, FILL_EASY_MAJOR), (0, 0, FILL_HARD_MAJOR), (-2, -2, FILL_HARD_MINOR), (0, -2, FILL_EASY_MINOR)]
LABELS_TWO = [("Major", 1.25, 2.2), ("Minor", -2.06, -2.21)]
LABELS_FOUR = [("Easy Major", -2.36, 2.2), ("Hard Major", 0.93, 2.2), ("Hard Minor", -2.36, -2.21), ("Easy Minor", 0.93, -2.21)]

BIG = MAJOR_LARGE + MAJOR_LARGE_FILL

# plot-area edges in pixels: left, right, top, bottom
PANELS = [
    dict(box=(29.3, 293.3, 10.7, 277.3), caption="(a)\u2002w/o dis", cx=151, cy=337, major=BIG, minor=MINOR_CENTER + MINOR_A_EXTRA, noise=NOISE_A, contours=CONTOURS_A, top_contours=CONTOURS_A_TOP),
    dict(box=(336.3, 600.7, 10.7, 277.3), caption="(b)\u2002w/o seg", cx=459, cy=337, major=MAJOR_SQUARE_B + MAJOR_SCATTER_B, minor=MINOR_B_ZONE + MINOR_B_EXTRA, noise=NOISE_B, contours=CONTOURS_B, zones=ZONES_TWO, labels=LABELS_TWO),
    dict(box=(643.3, 907.7, 10.7, 277.3), caption="(c)\u2002w/o af", cx=765, cy=337, major=MAJOR_DIAMOND_C + MAJOR_SCATTER_C, minor=MINOR_EASY_C + MINOR_G_HARD + MINOR_C_EXTRA, noise=NOISE_C, contours=CONTOURS_C, zones=ZONES_FOUR, labels=LABELS_FOUR),
    dict(box=(950.3, 1214.7, 10.7, 277.3), caption="(d)\u2002SMOTE-CLS", cx=1072, cy=337, major=MAJOR_SQUARE_D + MAJOR_SCATTER_D, minor=MINOR_H + MINOR_D_EXTRA, noise=NOISE_D, contours=CONTOURS_D, zones=ZONES_FOUR, labels=LABELS_FOUR),
    dict(box=(27, 294, 391.5, 657.5), caption="(e)\u2002w/o dis", cx=151, cy=714, major=BIG, minor=MINOR_CENTER + MINOR_E_EXTRA, noise=NOISE_E),
    dict(box=(333.5, 600.5, 391.5, 657.5), caption="(f)\u2002w/o seg", cx=458, cy=714, major=MAJOR_SQUARE_B + MAJOR_SCATTER_B, minor=MINOR_B_ZONE, noise=NOISE_F),
    dict(box=(640.7, 908.3, 391.5, 657.5), caption="(g)\u2002w/o af", cx=765, cy=714, major=MAJOR_DIAMOND_C + MAJOR_SCATTER_C, minor=MINOR_EASY_C + MINOR_G_HARD, noise=NOISE_G),
    dict(box=(947.7, 1215.3, 391.5, 657.5), caption="(h)\u2002SMOTE-CLS", cx=1072, cy=714, major=MAJOR_SQUARE_D + MAJOR_SCATTER_D, minor=MINOR_H, noise=NOISE_H, zones=ZONES_FOUR, labels=LABELS_FOUR),
    dict(box=(31.7, 291.7, 769.3, 1027.3), caption="(i)\u2002w/o dis", cx=151, cy=1083, major=[], minor=MINOR_SMALL + MINOR_I_EXTRA, noise=NOISE_I, narrow=True),
    dict(box=(338.3, 598.7, 769.3, 1027.3), caption="(j)\u2002w/o seg", cx=459, cy=1083, major=[], minor=MINOR_SMALL + MINOR_J_EXTRA, noise=NOISE_J, narrow=True),
    dict(box=(645.5, 905.5, 769.3, 1027.3), caption="(k)\u2002w/o af", cx=766, cy=1083, major=[], minor=MINOR_SMALL + MINOR_K_EXTRA, noise=NOISE_K, narrow=True),
    dict(box=(952.7, 1213.3, 769.3, 1027.3), caption="(l)\u2002SMOTE-CLS", cx=1073, cy=1083, major=[], minor=MINOR_SMALL + MINOR_L_EXTRA, noise=NOISE_L, narrow=True),
]

# legend frame: panel index, legend name, left, right, top, bottom, entry width, legend left, legend top
LEGENDS = [
    (0, "legend", 27, 296, 4, 27, 50, 25, 0.5),
    (4, "legend2", 37, 284, 384, 405, 42, 35, 380),
    (8, "legend3", 42, 282, 763, 783, 40, 38, 758),
]


def add_points(fig, points, color, xa, ya, size=6.5):
    fig.add_trace(
        go.Scatter(
            x=[p[0] for p in points],
            y=[p[1] for p in points],
            mode="markers",
            marker=dict(color=color, size=size, opacity=0.88, line=dict(color="white", width=0.4)),
            xaxis=xa,
            yaxis=ya,
            showlegend=False,
        )
    )


def add_lines(fig, contours, xa, ya):
    for color, line in contours:
        fig.add_trace(
            go.Scatter(
                x=[p[0] for p in line],
                y=[p[1] for p in line],
                mode="lines",
                line=dict(color=color, width=1.4, shape="spline", smoothing=0.9),
                xaxis=xa,
                yaxis=ya,
                showlegend=False,
            )
        )


fig = go.Figure()
layout_axes = {}
shapes = []
annotations = []

for n, panel in enumerate(PANELS, start=1):
    left, right, top, bottom = panel["box"]
    suffix = "" if n == 1 else str(n)
    xa, ya = "x" + suffix, "y" + suffix
    narrow = panel.get("narrow", False)
    ticks = TICKS_NARROW if narrow else TICKS_WIDE
    common = dict(
        range=[ticks[0], ticks[-1]],
        tickvals=ticks,
        tickformat=".1f" if narrow else "d",
        tickfont=dict(family="DejaVu Sans", size=8, color="#555555"),
        ticks="outside",
        ticklen=4,
        tickcolor="#909090",
        showgrid=True,
        gridcolor="#cccccc",
        gridwidth=1.2,
        zeroline=False,
        showline=True,
        linecolor="#909090",
        linewidth=1,
        automargin=False,
    )
    layout_axes["xaxis" + suffix] = dict(common, domain=[left / W, right / W], anchor=ya)
    layout_axes["yaxis" + suffix] = dict(common, domain=[1 - bottom / H, 1 - top / H], anchor=xa)

    add_points(fig, panel["major"], BLUE, xa, ya)
    add_lines(fig, panel.get("contours", []), xa, ya)
    add_points(fig, panel["noise"], BLACK, xa, ya)
    add_points(fig, panel["minor"], ORANGE, xa, ya)
    add_lines(fig, panel.get("top_contours", []), xa, ya)

    for zx, zy, fill in panel.get("zones", []):
        shapes.append(
            dict(type="rect", xref=xa, yref=ya, x0=zx, x1=zx + 2, y0=zy, y1=zy + 2,
                 fillcolor=fill, line_width=0, layer="above")
        )

    for text, tx, ty in panel.get("labels", []):
        annotations.append(
            dict(text=text, x=tx, y=ty, xref=xa, yref=ya, xanchor="left", yanchor="middle", showarrow=False,
                 font=dict(family="Noto Sans", size=12.5, color="#222222"))
        )

    annotations.append(
        dict(text=panel["caption"], x=panel["cx"] / W, y=1 - panel["cy"] / H, xref="paper", yref="paper",
             xanchor="center", yanchor="middle", showarrow=False,
             font=dict(family="Liberation Serif", size=25, color="#222222"))
    )

legend_layout = {}
for idx, name, left, right, top, bottom, entry, leg_left, leg_top in LEGENDS:
    # legend frame with a drop shadow, plotly's own legend sits on top of it
    def frame(dx, dy):
        l, r, t, b = (left + dx) / W, (right + dx) / W, 1 - (top + dy) / H, 1 - (bottom + dy) / H
        cx, cy = 3 / W, 3 / H
        return (f"M {l + cx} {t} L {r - cx} {t} Q {r} {t} {r} {t - cy} L {r} {b + cy} Q {r} {b} {r - cx} {b} "
                f"L {l + cx} {b} Q {l} {b} {l} {b + cy} L {l} {t - cy} Q {l} {t} {l + cx} {t} Z")

    shapes.append(dict(type="path", path=frame(2, 2), xref="paper", yref="paper", fillcolor="rgba(0,0,0,0.35)", line_width=0, layer="above"))
    shapes.append(dict(type="path", path=frame(0, 0), xref="paper", yref="paper", fillcolor="white", line=dict(color="#222222", width=1), layer="above"))
    legend_layout[name] = dict(
        orientation="h",
        x=leg_left / W,
        y=1 - leg_top / H,
        xanchor="left",
        yanchor="top",
        bgcolor="rgba(0,0,0,0)",
        borderwidth=0,
        entrywidth=entry,
        entrywidthmode="pixels",
        itemclick=False,
        font=dict(family="Noto Sans", size=12, color="#222222"),
    )
    suffix = "" if idx == 0 else str(idx + 1)
    for label, color in [("Major", BLUE), ("Minor", ORANGE), ("Noise", BLACK)]:
        fig.add_trace(
            go.Scatter(
                x=[None], y=[None], mode="markers", name=label,
                marker=dict(color=color, size=5),
                xaxis="x" + suffix, yaxis="y" + suffix,
                legend=name, showlegend=True,
            )
        )

fig.update_layout(
    width=W,
    height=H,
    margin=dict(l=0, r=0, t=0, b=0),
    paper_bgcolor="white",
    plot_bgcolor="#f7f7f7",
    shapes=shapes,
    annotations=annotations,
    **layout_axes,
    **legend_layout,
)

fig.write_html("out.html", config={"displayModeBar": False}, post_script="document.body.style.margin='0';")
